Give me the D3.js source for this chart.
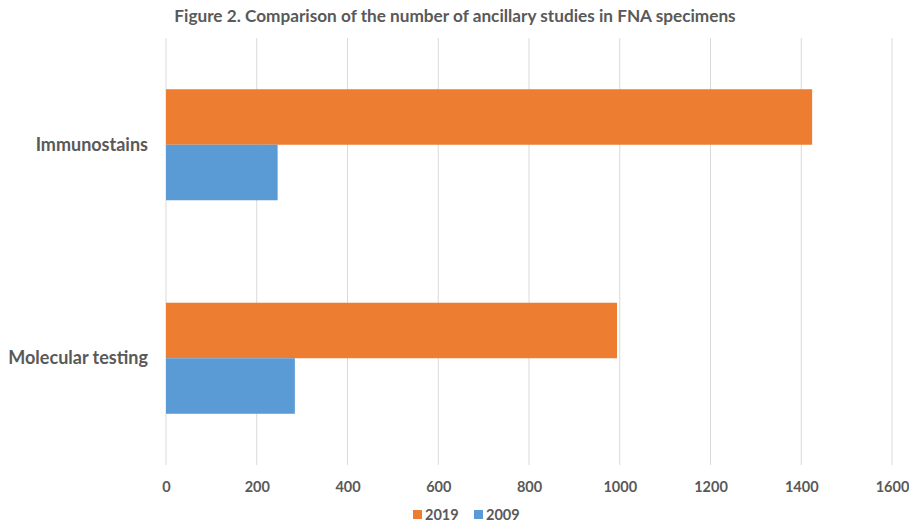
<!DOCTYPE html>
<html>
<head>
<meta charset="utf-8">
<script src="https://cdn.jsdelivr.net/npm/d3@7"></script>
<style>
  html, body { margin: 0; padding: 0; background: #fff; }
  svg { display: block; font-family: Lato, "Open Sans", sans-serif; }
</style>
</head>
<body>
<svg id="chart" width="909" height="522"></svg>
<script>
// Ancillary studies in FNA specimens, by study type and year
const categories = ["Immunostains", "Molecular testing"];
const seriesNames = ["2019", "2009"];
const values2019 = [1424, 994];
const values2009 = [246, 284];
const tickValues = [0, 200, 400, 600, 800, 1000, 1200, 1400, 1600];
const colors = { "2019": "#ED7D31", "2009": "#5B9BD5" };

const svg = d3.select("#chart");
const margin = { top: 38, right: 17, bottom: 57, left: 166 };
const width = 909 - margin.left - margin.right;
const height = 522 - margin.top - margin.bottom;

const x = d3.scaleLinear().domain([0, 1600]).range([0, width]);
const y = d3.scaleBand().domain(categories).range([0, height]).paddingInner(0.48).paddingOuter(0.24);
const ySub = d3.scaleBand().domain(seriesNames).range([0, y.bandwidth()]);

const g = svg.append("g").attr("transform", `translate(${margin.left},${margin.top})`);

// Title
svg.append("text")
  .attr("x", 455).attr("y", 22)
  .attr("text-anchor", "middle")
  .attr("font-size", 17.2).attr("font-weight", "bold").attr("fill", "#595959")
  .text("Figure 2. Comparison of the number of ancillary studies in FNA specimens");

// Vertical gridlines
g.append("g")
  .selectAll("line")
  .data(tickValues)
  .join("line")
  .attr("x1", d => x(d)).attr("x2", d => x(d))
  .attr("y1", 0).attr("y2", height)
  .attr("stroke", "#d9d9d9").attr("stroke-width", 1);

// X axis labels
const xAxis = d3.axisBottom(x).tickValues(tickValues).tickSize(0).tickPadding(17).tickFormat(d3.format("d"));
const xg = g.append("g").attr("transform", `translate(0,${height})`).call(xAxis);
xg.select(".domain").remove();
xg.selectAll("text")
  .attr("font-size", 14.5).attr("font-weight", "bold").attr("fill", "#595959")
  .attr("font-family", "Lato, 'Open Sans', sans-serif");

// Category labels
const yAxis = d3.axisLeft(y).tickSize(0).tickPadding(18);
const yg = g.append("g").call(yAxis);
yg.select(".domain").remove();
yg.selectAll("text")
  .attr("font-size", 18).attr("font-weight", "bold").attr("fill", "#595959")
  .attr("font-family", "Lato, 'Open Sans', sans-serif");

// Bars
const rows = categories.map((c, i) => ({
  category: c,
  bars: [
    { series: "2019", value: values2019[i] },
    { series: "2009", value: values2009[i] }
  ]
}));

g.append("g")
  .selectAll("g")
  .data(rows)
  .join("g")
  .attr("transform", d => `translate(0,${y(d.category)})`)
  .selectAll("rect")
  .data(d => d.bars)
  .join("rect")
  .attr("x", x(0))
  .attr("y", d => ySub(d.series))
  .attr("width", d => x(d.value) - x(0))
  .attr("height", ySub.bandwidth())
  .attr("fill", d => colors[d.series]);

// Legend
const legend = svg.append("g").attr("transform", "translate(413,510)");
const legendX = [0, 61];
seriesNames.forEach((s, i) => {
  const item = legend.append("g").attr("transform", `translate(${legendX[i]},0)`);
  item.append("rect").attr("width", 9).attr("height", 9).attr("fill", colors[s]);
  item.append("text")
    .attr("x", 12).attr("y", 9.5)
    .attr("font-size", 14.5).attr("font-weight", "bold").attr("fill", "#595959")
    .text(s);
});
</script>
</body>
</html>
